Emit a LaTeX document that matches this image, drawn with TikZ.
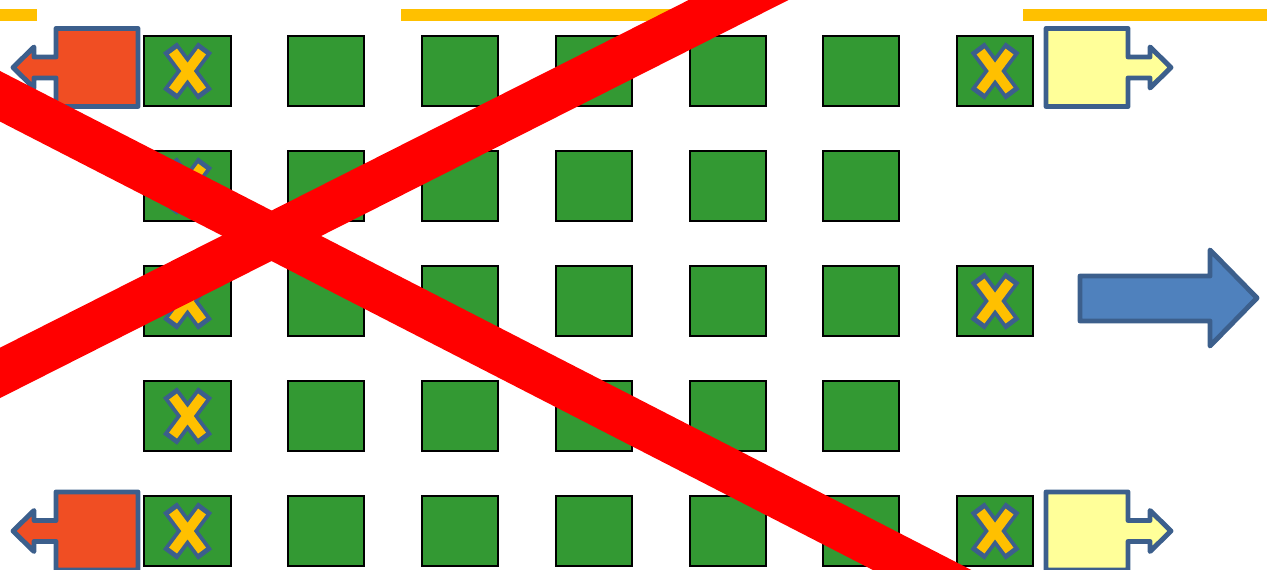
\documentclass[tikz,border=0pt]{standalone}
\definecolor{cellgreen}{HTML}{339933}
\definecolor{barorange}{HTML}{FFC000}
\definecolor{edgeblue}{HTML}{3C5F8C}
\definecolor{portred}{HTML}{F04E23}
\definecolor{portyellow}{HTML}{FFFF99}
\definecolor{arrowblue}{HTML}{4F81BD}
\begin{document}
\begin{tikzpicture}[x=0.02cm, y=-0.02cm,
    cell/.style={draw=black, line width=1.2pt, fill=cellgreen, minimum width=1.52cm,
        minimum height=1.4cm, inner sep=0pt, anchor=north west},
    wide/.style={minimum width=1.74cm},
    bar/.style={fill=barorange},
    port/.style={draw=edgeblue, line width=2.8pt, line join=round},
    cross/.style={red, line width=25.6pt},
    xmark/.pic={
        \draw[edgeblue, line width=10pt] (-17.5,-23.5) -- (17.5,23.5) (-17.5,23.5) -- (17.5,-23.5);
        \draw[barorange, line width=5.6pt] (-14.5,-19.5) -- (14.5,19.5) (-14.5,19.5) -- (14.5,-19.5);
    },
    portbox/.pic={
        \draw[port, fill=#1] (-41,-39) -- (41,-39) -- (41,-10.5) -- (63,-10.5) -- (63,-20.5)
            -- (84,0) -- (63,20.5) -- (63,10.5) -- (41,10.5) -- (41,39) -- (-41,39) -- cycle;
    }]
    \useasboundingbox (0,0) rectangle (1267,570);
    \clip (0,0) rectangle (1267,570);

    % bars along the top
    \fill[bar] (0,9) rectangle (37,21);
    \fill[bar] (401,9) rectangle (700,21);
    \fill[bar] (1023,9) rectangle (1267,21);

    % grid of cells
    \foreach \r/\y in {1/35,2/150,3/265,4/380,5/495} {
        \node[cell, wide] (c1-\r) at (143,\y) {};
        \foreach \c/\x in {2/287,3/421,4/555,5/689,6/822}
            \node[cell] (c\c-\r) at (\x,\y) {};
    }
    \foreach \r/\y in {1/35,3/265,5/495}
        \node[cell] (c7-\r) at (956,\y) {};

    % marked cells
    \foreach \r in {1,...,5}
        \pic at (c1-\r) {xmark};
    \foreach \r in {1,3,5}
        \pic at (c7-\r) {xmark};

    % ports on both sides
    \pic[xscale=-1] at (97,67.5) {portbox=portred};
    \pic[xscale=-1] at (97,531) {portbox=portred};
    \pic at (1087,67.5) {portbox=portyellow};
    \pic at (1087,531) {portbox=portyellow};

    % direction arrow
    \draw[port, fill=arrowblue] (1080,276) -- (1210,276) -- (1210,250) -- (1257,298)
        -- (1210,346) -- (1210,321) -- (1080,321) -- cycle;

    % big red cross
    \coordinate (tl) at (-20,86);
    \coordinate (br) at (1000,610);
    \coordinate (bl) at (-20,383);
    \coordinate (tr) at (800,-31);
    \draw[cross] (tl) -- (br);
    \draw[cross] (bl) -- (tr);
\end{tikzpicture}
\end{document}
